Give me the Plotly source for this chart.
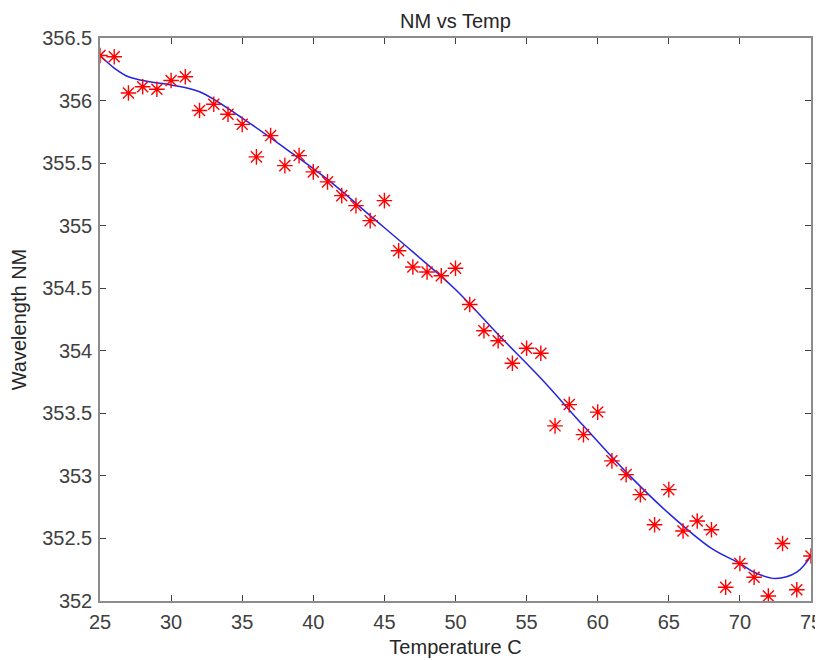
import plotly.graph_objects as go

# Measured data (Temperature C vs Wavelength NM)
temp = list(range(25, 76))
wavelength = [
    356.36, 356.35, 356.06, 356.11, 356.09, 356.16, 356.19, 355.92, 355.97, 355.89,
    355.81, 355.55, 355.72, 355.48, 355.56, 355.43, 355.35, 355.24, 355.16, 355.04,
    355.20, 354.80, 354.67, 354.63, 354.60, 354.66, 354.37, 354.16, 354.08, 353.90,
    354.02, 353.98, 353.40, 353.57, 353.33, 353.51, 353.12, 353.01, 352.85, 352.61,
    352.89, 352.56, 352.64, 352.57, 352.11, 352.30, 352.19, 352.04, 352.46, 352.09,
    352.36,
]

# Fitted curve
fit_x = [25, 26, 27, 28.5, 30, 32, 35, 38, 41, 44, 47, 50, 53, 56, 59, 62, 65,
         68, 70, 71, 72.5, 74, 75]
fit_y = [356.36, 356.26, 356.19, 356.15, 356.125, 356.07, 355.86, 355.62, 355.37,
         355.08, 354.79, 354.49, 354.13, 353.78, 353.40, 353.03, 352.70, 352.42,
         352.30, 352.23, 352.18, 352.23, 352.36]

x_ticks = list(range(25, 80, 5))
y_ticks = [352, 352.5, 353, 353.5, 354, 354.5, 355, 355.5, 356, 356.5]

FONT = "Liberation Sans, Arial, Helvetica"
W, H = 815, 652  # page body has an 8px margin inside the 823x660 window

fig = go.Figure()
fig.add_trace(go.Scatter(
    x=fit_x, y=fit_y, mode="lines",
    line=dict(color="#2424e0", width=1.5, shape="spline", smoothing=1.0),
    hoverinfo="skip", showlegend=False,
))
fig.add_trace(go.Scatter(
    x=temp, y=wavelength, mode="markers",
    marker=dict(symbol="asterisk-open", size=13, color="#ff0000",
                line=dict(color="#ff0000", width=1.4)),
    showlegend=False,
))

axis_common = dict(
    showgrid=False, zeroline=False, showline=True, linecolor="#8c8c8c", linewidth=1.5,
    mirror="ticks", ticks="inside", ticklen=6, tickcolor="#404040", tickwidth=1,
    tickfont=dict(family=FONT, size=20, color="#404040"),
    automargin=False,
)

fig.update_layout(
    width=W, height=H,
    margin=dict(l=92, r=12, t=30, b=59),
    paper_bgcolor="white", plot_bgcolor="white",
    title=dict(text="NM vs Temp", x=(92 + W - 12) / 2 / W, xanchor="center",
               y=1 - 13 / H, yanchor="middle",
               font=dict(family=FONT, size=20, color="#262626")),
    xaxis=dict(range=[25, 75], tickvals=x_ticks, ticktext=[str(v) for v in x_ticks],
               ticklabelstandoff=2,
               title=dict(text="Temperature C", standoff=8,
                          font=dict(family=FONT, size=20, color="#262626")),
               **axis_common),
    yaxis=dict(range=[352, 356.5], tickvals=y_ticks, ticktext=[f"{v:g}" for v in y_ticks],
               ticklabelstandoff=2,
               title=dict(text="Wavelength NM", standoff=10,
                          font=dict(family=FONT, size=20, color="#262626")),
               **axis_common),
)

fig.write_html("out.html")
